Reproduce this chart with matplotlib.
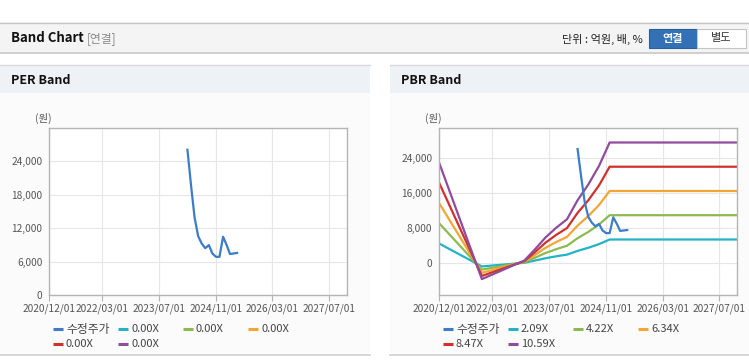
import numpy as np
import pandas as pd
import matplotlib
matplotlib.use("Agg")
import matplotlib.pyplot as plt
from matplotlib.patches import Rectangle
from matplotlib.lines import Line2D

plt.rcParams['font.family'] = ['Noto Sans CJK KR', 'DejaVu Sans']

W, H = 749, 364

# ---- data ----
price_dates = pd.date_range("2024-03-01", "2025-05-01", freq="MS")
price = [26100, 19700, 14000, 10600, 9300, 8450, 9000, 7500, 6900, 6900,
         10500, 9000, 7400, 7500, 7600]

band_dates = pd.to_datetime(["2020-12-01", "2021-12-01", "2022-12-01", "2023-03-01",
                             "2023-06-01", "2023-09-01", "2023-12-01", "2024-03-01",
                             "2024-06-01", "2024-09-01", "2024-12-01", "2027-12-01"])
pbr_209 = [4510, -710, 130, 630, 1170, 1610, 1990, 2840, 3550, 4390, 5440, 5440]
pbr_422 = [9120, -1430, 250, 1270, 2360, 3250, 4010, 5740, 7170, 8860, 10990, 10990]
pbr_634 = [13690, -2160, 380, 1900, 3550, 4880, 6020, 8620, 10780, 13310, 16520, 16520]
pbr_847 = [18300, -2880, 510, 2540, 4740, 6520, 8050, 11520, 14400, 17790, 22060, 22060]
pbr_1059 = [22870, -3600, 640, 3180, 5930, 8150, 10060, 14400, 18000, 22240, 27590, 27590]

per_labels = ["수정주가", "0.00X", "0.00X", "0.00X", "0.00X", "0.00X"]
pbr_labels = ["수정주가", "2.09X", "4.22X", "6.34X", "8.47X", "10.59X"]
colors = ["#3b7dc8", "#22b3c6", "#8cba51", "#f3a535", "#d2302c", "#8e4c9c"]

xticks = pd.to_datetime(["2020-12-01", "2022-03-01", "2023-07-01", "2024-11-01",
                         "2026-03-01", "2027-07-01"])
xticklabels = ["2020/12/01", "2022/03/01", "2023/07/01", "2024/11/01", "2026/03/01", "2027/07/01"]


def fx(x):
    return x / W


def fy(y):
    return 1 - y / H


fig = plt.figure(figsize=(W / 100, H / 100), dpi=100)
fig.patch.set_facecolor("white")


def rect(x0, y0, x1, y1, fc, ec="none", lw=0):
    fig.add_artist(Rectangle((fx(x0), fy(y1)), fx(x1 - x0), (y1 - y0) / H,
                             transform=fig.transFigure, facecolor=fc, edgecolor=ec,
                             linewidth=lw, zorder=0))


def hline(x0, x1, y, c, lw=1):
    fig.add_artist(Line2D([fx(x0), fx(x1)], [fy(y), fy(y)], transform=fig.transFigure,
                          color=c, linewidth=lw, zorder=1))


# top header
rect(0, 22, W, 53, "#f4f4f4")
hline(0, W, 22.5, "#c8c8c8")
hline(0, W, 53, "#c8c8c8", 1.2)
fig.text(fx(11), fy(38), "Band Chart", fontsize=9.5, fontweight="bold", va="center", color="#111")
fig.text(fx(87), fy(38.5), "[연결]", fontsize=8.5, va="center", color="#8a8a8a")
fig.text(fx(643), fy(39), "단위 : 억원, 배, %", fontsize=8, va="center", ha="right", color="#222")
rect(649, 29, 697, 48, "#3470b5", "#2a5f9e", 0.8)
rect(697, 29, 746, 48, "white", "#c4c4c4", 0.8)
fig.text(fx(673), fy(38.5), "연결", fontsize=8, fontweight="bold", color="white", ha="center", va="center")
fig.text(fx(721.5), fy(38.5), "별도", fontsize=8, color="#333", ha="center", va="center")

# panels
for x0, x1, title in [(0, 370, "PER Band"), (390, W, "PBR Band")]:
    rect(x0, 93, x1, 354, "#fbfbfb")
    rect(x0, 64.5, x1, 93, "#eef2f7")
    hline(x0, x1, 64.5, "#d8d8d8")
    hline(x0, x1, 354.5, "#d0d0d0", 1.2)
    fig.text(fx(x0 + 11), fy(80), title, fontsize=9, fontweight="bold", va="center", color="#111")


def setup(ax, ylim, yticks):
    ax.set_facecolor("white")
    ax.set_xlim(pd.Timestamp("2020-12-01"), pd.Timestamp("2027-12-01"))
    ax.set_ylim(*ylim)
    ax.set_xticks(xticks)
    ax.set_xticklabels(xticklabels)
    ax.set_yticks(yticks)
    ax.set_yticklabels([f"{v:,}" for v in yticks])
    ax.grid(True, color="#e6e6e6", linewidth=0.8)
    ax.set_axisbelow(True)
    for s in ax.spines.values():
        s.set_color("#b4b4b4")
        s.set_linewidth(1.0)
    ax.tick_params(axis="x", length=4, width=0.8, color="#b4b4b4", labelsize=7.3,
                   labelcolor="#555", pad=2)
    ax.tick_params(axis="y", length=0, labelsize=7.3, labelcolor="#555", pad=5)


ax_h = (295.3 - 128) / H
ax1 = fig.add_axes([fx(49.3), fy(295.3), fx(347 - 49.3), ax_h])
ax2 = fig.add_axes([fx(439.3), fy(295.3), fx(737.3 - 439.3), ax_h])

setup(ax1, (0, 30000), [0, 6000, 12000, 18000, 24000])
setup(ax2, (-7300, 30900), [0, 8000, 16000, 24000])

ax1.plot(price_dates, price, color=colors[0], lw=1.6, zorder=5)

pbr_series = [pbr_209, pbr_422, pbr_634, pbr_847, pbr_1059]
for vals, c in zip(pbr_series, colors[1:]):
    ax2.plot(band_dates, vals, color=c, lw=1.6)
ax2.plot(price_dates, price, color=colors[0], lw=1.6, zorder=5)

fig.text(fx(35), fy(118), "(원)", fontsize=7.5, color="#555", va="center")
fig.text(fx(425), fy(118), "(원)", fontsize=7.5, color="#555", va="center")


# legends
def legend(x0, labels):
    for i, (lab, c) in enumerate(zip(labels, colors)):
        col, row = i % 4, i // 4
        lx = x0 + col * 65
        ly = 329 + row * 15
        fig.add_artist(Line2D([fx(lx), fx(lx + 10)], [fy(ly), fy(ly)], transform=fig.transFigure,
                              color=c, linewidth=2.2, solid_capstyle="butt"))
        fig.text(fx(lx + 13), fy(ly), lab, fontsize=8.5 if i == 0 else 8, color="#444",
                 va="center")


legend(53, per_labels)
legend(443, pbr_labels)

fig.savefig("out.png", dpi=100)
